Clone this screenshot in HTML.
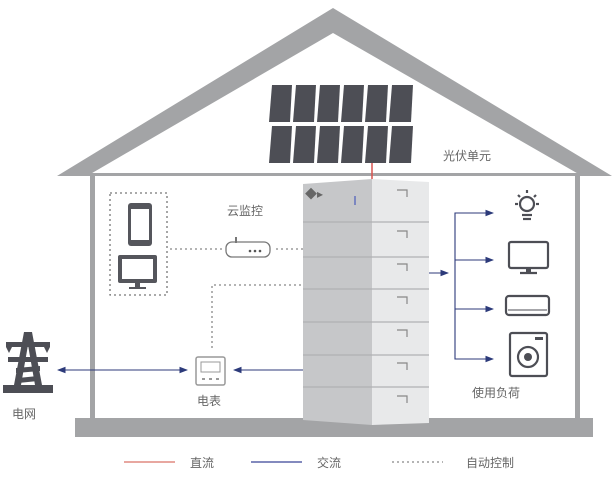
<!DOCTYPE html>
<html><head><meta charset="utf-8"><style>
body{margin:0;background:#fff}
svg{display:block}
text{font-family:"Liberation Sans","Noto Sans CJK SC",sans-serif;fill:#666;font-size:12px}
</style></head><body>
<svg width="615" height="478" viewBox="0 0 615 478" xmlns="http://www.w3.org/2000/svg">
<defs>
<marker id="ab" markerWidth="8" markerHeight="6" refX="7" refY="3" orient="auto"><path d="M0,0 L8,3 L0,6 Z" fill="#2c3a7a"/></marker>
<marker id="as" markerWidth="8" markerHeight="6" refX="1" refY="3" orient="auto"><path d="M8,0 L0,3 L8,6 Z" fill="#2c3a7a"/></marker>
</defs>
<!-- roof -->
<path d="M57,176 L333,8 L612,176 L582,176 L333,33 L87,176 Z" fill="#a3a4a6"/>
<rect x="87" y="173" width="495" height="3" fill="#a3a4a6"/>
<!-- walls -->
<rect x="90" y="175" width="5" height="245" fill="#a3a4a6"/>
<rect x="575" y="175" width="5" height="245" fill="#a3a4a6"/>
<rect x="75" y="418" width="518" height="19" fill="#a3a4a6"/>
<!-- panels -->
<g fill="#4d4e55">
<path d="M272,85 L292,85 L290,122 L269,122Z"/><path d="M296,85 L316,85 L314,122 L293,122Z"/><path d="M320,85 L340,85 L338,122 L317,122Z"/><path d="M344,85 L364,85 L362,122 L341,122Z"/><path d="M368,85 L388,85 L386,122 L365,122Z"/><path d="M392,85 L413,85 L411,122 L389,122Z"/>
<path d="M272,126 L292,126 L290,163 L269,163Z"/><path d="M296,126 L316,126 L314,163 L293,163Z"/><path d="M320,126 L340,126 L338,163 L317,163Z"/><path d="M344,126 L364,126 L362,163 L341,163Z"/><path d="M368,126 L388,126 L386,163 L365,163Z"/><path d="M392,126 L413,126 L411,163 L389,163Z"/>
</g>
<text x="443" y="160" font-size="13">光伏单元</text>
<line x1="372" y1="163" x2="372" y2="181" stroke="#d9534f" stroke-width="1.5"/>
<!-- battery -->
<path d="M303,184 L372,179 L372,425 L303,420 Z" fill="#c6c7c9"/>
<path d="M372,179 L429,182 L429,423 L372,425 Z" fill="#e8e9ea"/>
<g stroke="#b0b1b3" stroke-width="1.2">
<line x1="303" y1="222" x2="429" y2="222"/><line x1="303" y1="257" x2="429" y2="257"/><line x1="303" y1="289" x2="429" y2="289"/><line x1="303" y1="322" x2="429" y2="322"/><line x1="303" y1="355" x2="429" y2="355"/><line x1="303" y1="387" x2="429" y2="387"/>
</g>
<g stroke="#888" stroke-width="1.2" fill="none">
<path d="M397,190 h10 v7"/><path d="M397,231 h10 v7"/><path d="M397,264 h10 v7"/><path d="M397,297 h10 v7"/><path d="M397,330 h10 v7"/><path d="M397,363 h10 v7"/><path d="M397,396 h10 v7"/>
</g>
<rect x="354" y="196" width="2" height="9" fill="#7b86c0"/>
<text x="305" y="198" font-size="7" fill="#3a4a9a">◆▸</text>
<!-- dotted box & devices -->
<rect x="110" y="193" width="57" height="102" fill="none" stroke="#777" stroke-dasharray="2,3" stroke-width="1.3"/>
<rect x="128" y="203" width="24" height="43" rx="3" fill="#55565c"/><rect x="131" y="209" width="18" height="31" fill="#fff"/>
<rect x="118" y="255" width="39" height="28" rx="2" fill="#55565c"/><rect x="122" y="259" width="31" height="20" fill="#fff"/><rect x="135" y="283" width="5" height="4" fill="#55565c"/><rect x="129" y="287" width="17" height="2" fill="#55565c"/>
<text x="227" y="215" font-size="13">云监控</text>
<rect x="226" y="242" width="44" height="15" rx="6" fill="#fff" stroke="#777" stroke-width="1.3"/>
<circle cx="250" cy="251" r="1.3" fill="#555"/><circle cx="255" cy="251" r="1.3" fill="#555"/><circle cx="260" cy="251" r="1.3" fill="#555"/>
<rect x="235" y="237" width="2" height="6" fill="#777"/>
<g stroke="#888" stroke-width="1.3" stroke-dasharray="2,3" fill="none">
<line x1="170" y1="249" x2="222" y2="249"/><line x1="276" y1="249" x2="303" y2="249"/>
<path d="M212,348 L212,285 L303,285"/>
</g>
<!-- grid -->
<g fill="#4d4e55">
<rect x="3" y="385" width="50" height="8"/>
<path d="M24,332 L32,332 L42,385 L35,385 L28,345 L21,385 L14,385 Z"/>
<rect x="6" y="342" width="44" height="5"/><rect x="8" y="357" width="40" height="5"/>
<path d="M6,347 L12,347 L9,353Z"/><path d="M44,347 L50,347 L47,353Z"/>
<path d="M16,368 L40,366 L40,371 L16,373Z"/><path d="M18,378 L38,376 L38,381 L18,383Z"/>
</g>
<text x="12" y="418" font-size="13">电网</text>
<rect x="196" y="357" width="29" height="28" rx="2" fill="#fff" stroke="#999" stroke-width="1.5"/>
<rect x="201" y="362" width="19" height="10" fill="none" stroke="#999"/>
<g fill="#999"><rect x="202" y="378" width="3" height="2"/><rect x="209" y="378" width="3" height="2"/><rect x="216" y="378" width="3" height="2"/></g>
<text x="197" y="405" font-size="13">电表</text>
<g stroke="#2c3a7a" stroke-width="1.1" fill="none">
<line x1="58" y1="370" x2="187" y2="370" marker-start="url(#as)" marker-end="url(#ab)"/>
<line x1="303" y1="370" x2="234" y2="370" marker-end="url(#ab)"/>
<line x1="429" y1="273" x2="448" y2="273" marker-end="url(#ab)"/>
<path d="M455,273 L455,213 L493,213" marker-end="url(#ab)"/>
<path d="M455,273 L455,359 L493,359" marker-end="url(#ab)"/>
<line x1="455" y1="260" x2="493" y2="260" marker-end="url(#ab)"/>
<line x1="455" y1="309" x2="493" y2="309" marker-end="url(#ab)"/>
</g>
<!-- loads -->
<g stroke="#4d4e55" stroke-width="2.2" fill="none">
<circle cx="527" cy="204" r="7"/>
<line x1="527" y1="190" x2="527" y2="193"/><line x1="515" y1="204" x2="518" y2="204"/><line x1="536" y1="204" x2="539" y2="204"/><line x1="518" y1="195" x2="520" y2="197"/><line x1="536" y1="195" x2="534" y2="197"/>
<line x1="522" y1="215" x2="532" y2="215"/><line x1="523" y1="219" x2="531" y2="219"/>
<rect x="509" y="242" width="39" height="26" rx="2"/>
<line x1="520" y1="273" x2="537" y2="273"/>
<rect x="506" y="296" width="43" height="19" rx="3"/><line x1="508" y1="310" x2="547" y2="310" stroke-width="1"/>
<rect x="510" y="333" width="37" height="43" rx="2"/><circle cx="528" cy="357" r="10"/>
</g>
<circle cx="528" cy="357" r="4" fill="#4d4e55"/><rect x="535" y="337" width="8" height="3" fill="#4d4e55"/>
<rect x="526" y="268" width="5" height="4" fill="#4d4e55"/>
<text x="472" y="397" font-size="13">使用负荷</text>
<!-- legend -->
<line x1="124" y1="462" x2="175" y2="462" stroke="#e08a80" stroke-width="1.5"/>
<text x="190" y="467">直流</text>
<line x1="251" y1="462" x2="302" y2="462" stroke="#5a63a8" stroke-width="1.5"/>
<text x="317" y="467">交流</text>
<line x1="392" y1="462" x2="443" y2="462" stroke="#888" stroke-width="1.3" stroke-dasharray="2,3"/>
<text x="466" y="467">自动控制</text>
</svg>
</body></html>
